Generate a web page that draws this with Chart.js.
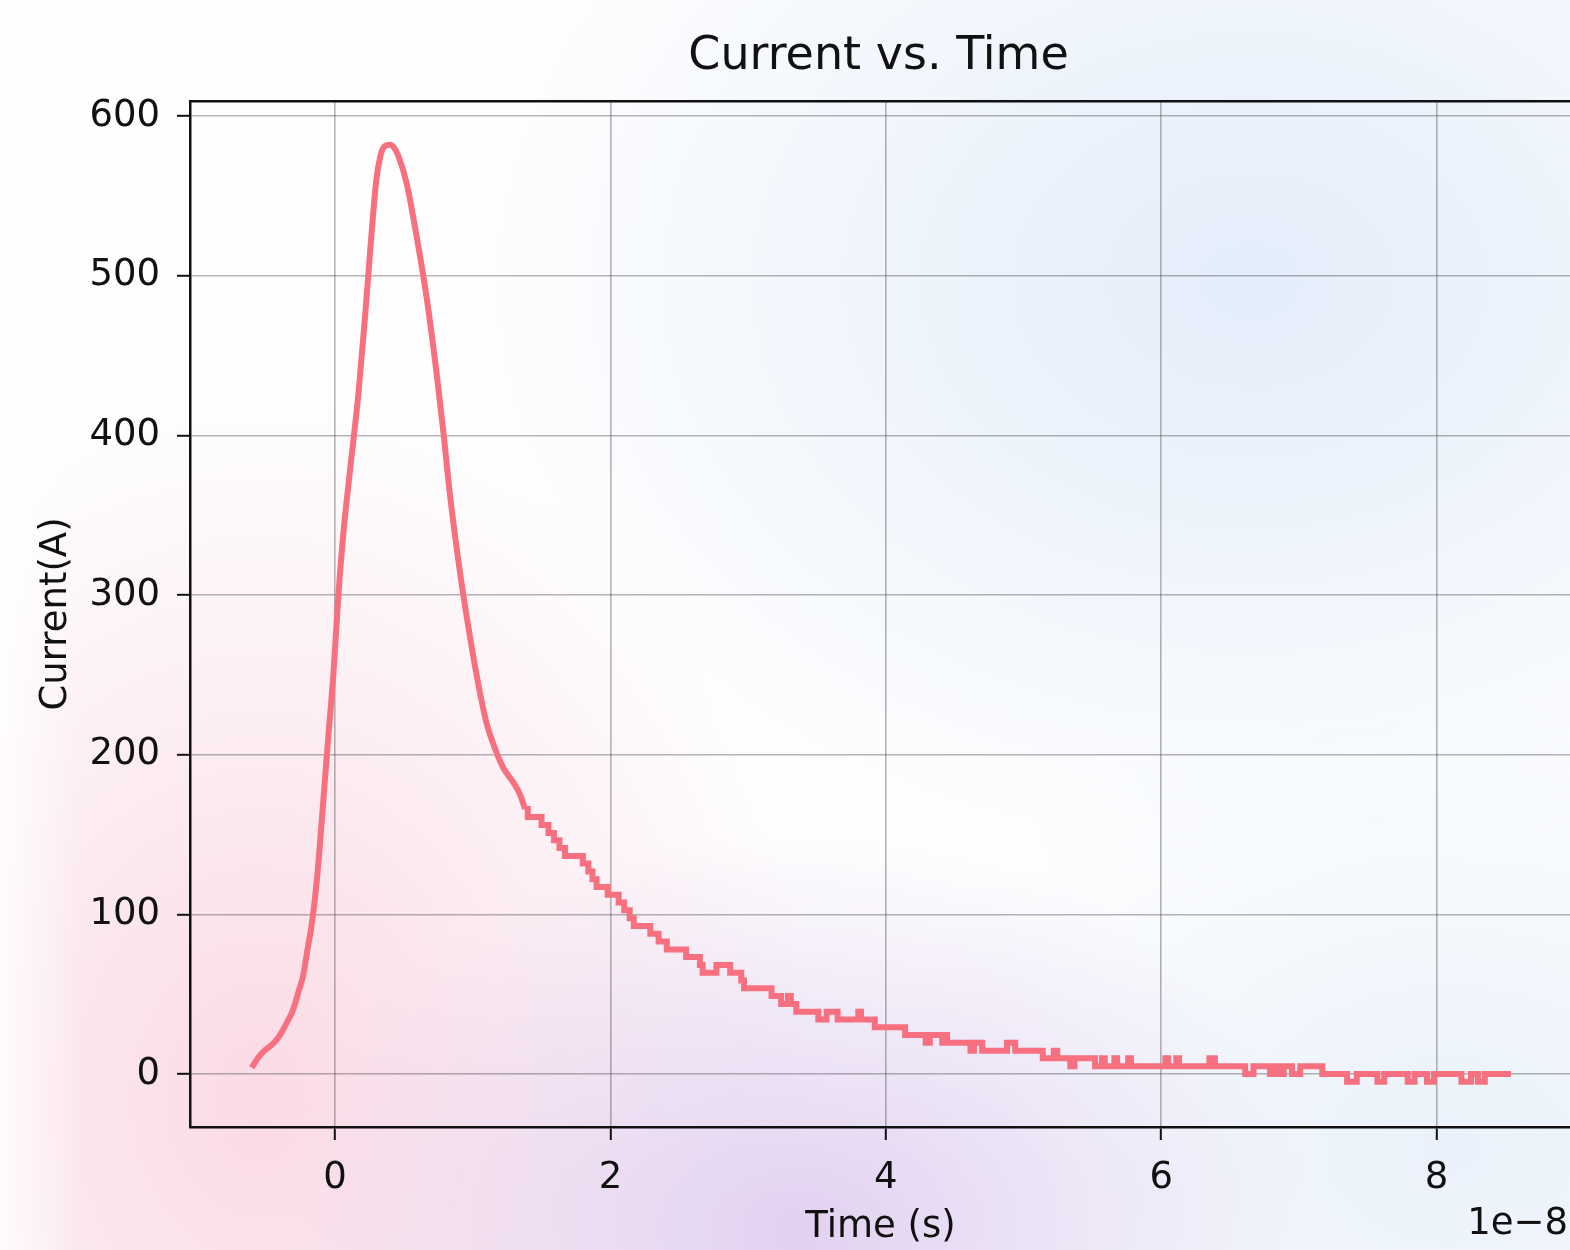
<!DOCTYPE html>
<html>
<head>
<meta charset="utf-8">
<script src="https://cdn.jsdelivr.net/npm/chart.js@4.4.1/dist/chart.umd.min.js"></script>
<style>
  html, body { margin: 0; width: 1570px; height: 1250px; overflow: hidden; }
  body {
    background:
      linear-gradient(to right, rgba(255,255,255,0.8), rgba(255,255,255,0) 80px),
      radial-gradient(ellipse 520px 400px at 800px 1230px, rgba(224,206,240,0.95), rgba(224,206,240,0)),
      radial-gradient(ellipse 560px 700px at 260px 1100px, rgba(250,216,228,0.95), rgba(250,216,228,0)),
      radial-gradient(ellipse 800px 600px at 1250px 280px, rgba(226,236,250,0.95), rgba(226,236,250,0)),
      radial-gradient(ellipse 600px 450px at 1450px 1150px, rgba(232,240,250,0.9), rgba(232,240,250,0)),
      #fefefe;
  }
  canvas { display: block; }
</style>
</head>
<body>
<canvas id="chartCorrente" width="1600" height="1250"></canvas>
<script>
// time is in units of 1e-8 s (axis shows the 1e-8 offset)
const riseTime = [-0.605, -0.56, -0.52, -0.45, -0.41, -0.375, -0.345, -0.315, -0.29, -0.267,
  -0.23, -0.20, -0.17, -0.13, -0.085, -0.049, -0.012, 0.024, 0.06, 0.109,
  0.17, 0.218, 0.254, 0.30, 0.33, 0.36, 0.40, 0.43, 0.46, 0.52,
  0.59, 0.666, 0.739, 0.787, 0.836, 0.908, 0.98, 1.05, 1.10, 1.14,
  1.22, 1.30, 1.344, 1.38];
const riseCurrent = [4, 10, 14, 19, 23, 28, 33, 38, 44, 51,
  62, 78, 93, 123, 171, 211, 250, 299, 338, 378,
  426, 474, 514, 560, 575, 581, 582, 580, 575, 558,
  526, 486, 438, 402, 362, 314, 274, 240, 220, 209,
  192, 182, 175, 166];

// quantized tail, each level holds until the next time
const tailTime = [1.38, 1.40, 1.50, 1.55, 1.59, 1.63, 1.67, 1.80, 1.84, 1.87,
  1.90, 1.98, 2.06, 2.10, 2.14, 2.17, 2.29, 2.35, 2.41, 2.55,
  2.65, 2.67, 2.77, 2.87, 2.95, 2.97, 3.17, 3.24, 3.29, 3.31,
  3.35, 3.51, 3.57, 3.65, 3.80, 3.82, 3.92, 4.14, 4.29, 4.32,
  4.41, 4.42, 4.445, 4.615, 4.64, 4.70, 4.88, 4.94, 5.14, 5.22,
  5.245, 5.34, 5.37, 5.52, 5.57, 5.59, 5.66, 5.68, 5.76, 5.78,
  6.03, 6.05, 6.11, 6.13, 6.35, 6.39, 6.61, 6.67, 6.79, 6.82,
  6.86, 6.89, 6.95, 7.01, 7.17, 7.35, 7.42, 7.57, 7.62, 7.79,
  7.84, 7.93, 7.98, 8.18, 8.25, 8.30, 8.35, 8.54];
const tailCurrent = [166, 161, 156, 151, 146.4, 141.5, 136.6, 131.8, 126.9, 122,
  117.1, 112.2, 107.4, 102.5, 97.6, 92.7, 87.8, 83, 78, 73.2,
  68.3, 63.4, 68.3, 63.4, 58.6, 53.7, 48.8, 43.9, 48.8, 43.9,
  39, 34.2, 39, 34.2, 39, 34.2, 29.3, 24.4, 19.5, 24.4,
  19.5, 24.4, 19.5, 14.6, 19.5, 14.6, 19.5, 14.6, 9.8, 14.6,
  9.8, 4.9, 9.8, 4.9, 9.8, 4.9, 9.8, 4.9, 9.8, 4.9,
  9.8, 4.9, 9.8, 4.9, 9.8, 4.9, 0, 4.9, 0, 4.9,
  0, 4.9, 0, 4.9, 0, -4.9, 0, -4.9, 0, -4.9,
  0, -4.9, 0, -4.9, 0, -4.9, 0, 0];

const xTicks = [0, 2, 4, 6, 8];
const yTicks = [0, 100, 200, 300, 400, 500, 600];

const corLinha = '#f7707f';

Chart.defaults.font.family = 'DejaVu Sans';
Chart.defaults.color = '#111';

// title and the 1e-8 offset label, placed like matplotlib does
const textosExtras = {
  id: 'textosExtras',
  afterDraw(chart) {
    const {ctx, chartArea} = chart;
    ctx.save();
    ctx.fillStyle = '#111';
    ctx.font = '46px "DejaVu Sans"';
    ctx.textAlign = 'center';
    ctx.textBaseline = 'middle';
    ctx.fillText('Current vs. Time', (chartArea.left + chartArea.right) / 2 - 2, 57);
    ctx.font = '37px "DejaVu Sans"';
    ctx.textAlign = 'right';
    ctx.fillText('1e\u22128', 1568, 1224);
    ctx.restore();
  }
};

new Chart(document.getElementById('chartCorrente'), {
  type: 'line',
  data: {
    datasets: [
      {
        data: riseTime.map((t, i) => ({x: t, y: riseCurrent[i]})),
        borderColor: corLinha,
        borderWidth: 6,
        pointRadius: 0,
        cubicInterpolationMode: 'monotone',
        fill: false
      },
      {
        data: tailTime.map((t, i) => ({x: t, y: tailCurrent[i]})),
        borderColor: corLinha,
        borderWidth: 6,
        pointRadius: 0,
        stepped: true,
        fill: false
      }
    ]
  },
  plugins: [textosExtras],
  options: {
    responsive: false,
    animation: false,
    devicePixelRatio: 1,
    layout: {padding: {top: 101, left: 0, right: 29, bottom: 0}},
    plugins: {legend: {display: false}, tooltip: {enabled: false}},
    scales: {
      x: {
        type: 'linear',
        min: -1.053,
        max: 8.976,
        afterBuildTicks: s => { s.ticks = xTicks.map(v => ({value: v})); },
        afterFit: s => { s.height = 123; },
        ticks: {font: {size: 37}, padding: 16, color: '#111', callback: v => String(v)},
        grid: {color: 'rgba(60,60,60,0.38)', lineWidth: 1.6, tickLength: 13, tickColor: '#111', tickWidth: 2},
        border: {color: '#111', width: 2.5},
        title: {display: true, text: 'Time (s)', font: {size: 37}, color: '#111', padding: {top: 0, bottom: 0}}
      },
      xTop: {
        type: 'linear',
        position: 'top',
        afterFit: s => { s.height = 0; },
        ticks: {display: false},
        grid: {drawOnChartArea: false, drawTicks: false},
        border: {color: '#111', width: 2.5}
      },
      y: {
        type: 'linear',
        min: -33.2,
        max: 609.4,
        afterBuildTicks: s => { s.ticks = yTicks.map(v => ({value: v})); },
        afterFit: s => { s.width = 190; },
        ticks: {font: {size: 37}, padding: 17, color: '#111', callback: v => String(v)},
        grid: {color: 'rgba(60,60,60,0.38)', lineWidth: 1.6, tickLength: 13, tickColor: '#111', tickWidth: 2},
        border: {color: '#111', width: 2.5},
        title: {display: true, text: 'Current(A)', font: {size: 37}, color: '#111', padding: {top: 34, bottom: 0}}
      }
    }
  }
});
</script>
</body>
</html>
